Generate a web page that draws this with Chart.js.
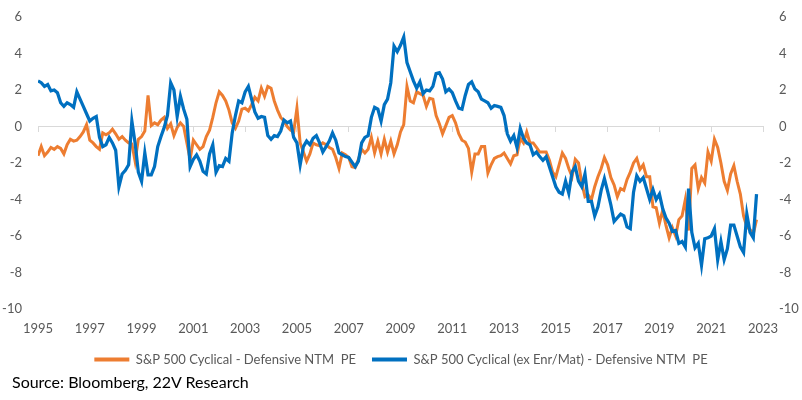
<!DOCTYPE html>
<html>
<head>
<meta charset="utf-8">
<title>S&amp;P 500 Cyclical - Defensive NTM PE</title>
<script src="https://cdn.jsdelivr.net/npm/chart.js@4.4.1/dist/chart.umd.min.js"></script>
<style>
  html, body { margin: 0; padding: 0; background: #fff; }
  #wrap { position: relative; width: 802px; height: 400px; }
  #source {
    position: absolute; left: 12px; top: 372px;
    font-family: Lato, 'Open Sans', sans-serif; font-size: 16px; line-height: 20px;
    color: #000;
  }
</style>
</head>
<body>
<div id="wrap">
  <canvas id="peChart"></canvas>
  <div id="source"></div>
</div>
<script>
// values, one point every 1.5 months starting Jan 1995
var orangeLabel = 'S&P 500 Cyclical - Defensive NTM  PE';
var blueLabel = 'S&P 500 Cyclical (ex Enr/Mat) - Defensive NTM  PE';
var sourceText = 'Source: Bloomberg, 22V Research';

var orangeValues = [
    -1.6, -1.1, -1.6, -1.4, -1.15, -1.25, -1.1, -1.2, -1.5, -1.0,
    -0.7, -0.8, -0.75, -0.55, -0.3, 0.1, -0.75, -0.9, -1.1, -1.25,
    -0.35, -0.45, -0.35, -0.15, -0.4, -0.7, -0.55, -0.75, -0.9, -0.95,
    -1.9, -0.7, -0.55, -0.25, 1.7, 0.05, 0.2, 0.1, 0.35, 0.5,
    -0.1, 0.15, -0.5, -0.05, 0.2, 0.0, -0.9, -1.8, -0.75, -1.0,
    -1.25, -1.1, -0.55, -0.2, 0.5, 1.3, 1.9, 1.7, 1.4, 0.9,
    0.2, -0.1, 0.3, 0.95, 1.0, 0.85, 1.2, 1.6, 1.4, 2.1,
    1.65, 2.2, 2.1, 1.4, 0.9, 0.5, 0.3, 0.0, -0.2, -0.3,
    1.0, -0.9, -1.4, -1.9, -1.5, -0.9, -1.0, -1.05, -0.9, -1.0,
    -1.15, -1.25, -1.7, -2.3, -1.45, -1.55, -1.7, -2.2, -2.25, -1.8,
    -1.25, -1.45, -1.25, -0.6, -1.45, -0.8, -1.5, -0.7, -1.4, -0.8,
    -1.5, -1.0, -0.3, 0.1, 2.2, 1.4, 1.3, 1.9, 1.8, 1.7,
    1.1, 1.55, 1.5, 0.6, 0.15, -0.4, 0.05, 0.5, 0.6, 0.2,
    -0.4, -0.75, -0.85, -1.2, -2.5, -1.5, -1.5, -1.1, -1.1, -2.55,
    -2.1, -1.75, -1.65, -1.6, -1.45, -1.75, -2.05, -1.6, -1.55, -0.65,
    -0.9, -0.3, -0.9, -0.9, -1.15, -1.4, -1.4, -1.4, -1.85, -2.5,
    -2.75, -2.1, -1.45, -1.75, -2.3, -2.75, -1.8, -2.0, -3.1, -3.85,
    -3.75, -4.0, -3.3, -2.75, -2.3, -1.7, -2.1, -2.8, -3.2, -3.85,
    -3.4, -3.5, -2.9, -2.5, -2.0, -1.75, -2.35, -2.1, -2.75, -2.75,
    -4.4, -4.45, -5.3, -4.6, -5.4, -6.1, -5.55, -6.0, -5.1, -4.9,
    -4.0, -5.7, -2.3, -2.1, -3.4, -2.8, -3.1, -1.4, -1.9, -0.7,
    -1.15, -2.0, -3.0, -3.5, -2.6, -2.15, -3.0, -3.7, -4.9, -5.5,
    -5.65, -5.9, -5.1
];

var blueValues = [
    2.5, 2.4, 2.2, 2.3, 1.95, 2.0, 1.85, 1.3, 1.1, 1.3,
    1.2, 1.05, 1.9, 1.5, 1.1, 0.7, 0.3, 0.45, 0.55, -0.6,
    -1.1, -1.0, -0.6, -0.9, -1.3, -3.3, -2.6, -2.4, -2.1, 0.3,
    -0.9, -2.5, -3.0, -1.45, -2.65, -2.65, -2.2, -1.1, -0.55, -0.05,
    0.6, 2.4, 2.0, 0.55, 1.65, 0.95, 0.4, -2.2, -1.8, -1.55,
    -1.9, -2.45, -2.6, -1.5, -1.0, -2.5, -2.15, -2.2, -1.75, -1.9,
    -0.35, 0.6, 1.4, 1.3, 1.9, 2.2, 1.5, 0.8, 0.45, 0.55,
    0.5, -0.5, -0.7, -0.5, -0.55, -0.25, 0.35, 0.2, 0.3, -0.6,
    -0.9, -2.1, -1.1, -0.8, -1.0, -0.65, -0.5, -0.9, -1.4, -1.1,
    -0.8, -0.35, -0.75, -1.45, -1.55, -1.65, -1.7, -1.95, -2.2, -1.9,
    -0.9, -0.6, -0.5, 0.5, 1.05, 0.95, 0.3, 1.2, 1.5, 2.4,
    4.4, 4.1, 4.45, 4.9, 3.5, 3.0, 2.5, 2.1, 2.45, 1.8,
    2.0, 1.95, 2.2, 2.9, 2.95, 2.6, 1.9, 2.05, 1.85, 1.4,
    1.0, 0.95, 1.7, 2.3, 2.45, 2.05, 1.9, 1.5, 1.4, 1.3,
    1.0, 1.15, 1.1, 1.05, 0.6, -0.4, -0.8, -0.5, -1.15, -0.1,
    -0.65, -0.9, -1.0, -1.55, -1.4, -1.65, -1.85, -1.65, -2.2, -2.75,
    -3.3, -3.6, -3.7, -3.0, -3.65, -2.5, -2.2, -3.0, -3.3, -2.6,
    -4.1, -4.1, -4.9, -4.4, -3.5, -2.85, -3.55, -4.3, -5.2, -5.0,
    -4.8, -4.9, -5.5, -5.6, -3.6, -2.7, -3.0, -2.8, -3.4, -4.0,
    -3.45, -4.0, -3.7, -4.5, -5.0, -5.3, -5.75, -5.7, -6.4, -6.3,
    -6.6, -3.4, -5.8, -6.65, -6.4, -7.6, -6.15, -6.1, -6.0, -5.6,
    -7.3, -6.3, -7.3, -6.7, -5.4, -5.4, -6.0, -6.6, -6.9, -4.8,
    -5.8, -6.1, -3.7
];

// x positions as decimal years (1.5 month steps)
var dates = orangeValues.map(function(v, i) { return 1995 + i / 8; });

var yearMin = 1995, yearMax = 2023, yearStep = 2;
var valueMin = -10, valueMax = 6, valueStep = 2;

var fontFamily = "Lato, 'Open Sans', sans-serif";
var gray = '#595959';

document.getElementById('source').textContent = sourceText;

function toPoints(values) {
    return values.map(function(v, i) { return { x: dates[i], y: v }; });
}

// y axes: hidden tick marks + small padding keep the top of the plot at 17px
function valueAxis(side, width) {
    return {
        min: valueMin,
        max: valueMax,
        position: side,
        grid: { display: false, drawTicks: true, tickLength: 7 },
        border: { display: false },
        ticks: {
            stepSize: valueStep,
            padding: 9,
            color: gray,
            font: { family: fontFamily, size: 13 }
        },
        afterFit: function(scale) { scale.width = width; }
    };
}

var ctx = document.getElementById('peChart').getContext('2d');
var peChart = new Chart(ctx, {
    type: 'line',
    data: {
        datasets: [
            {
                label: orangeLabel,
                data: toPoints(orangeValues),
                borderColor: '#ED7D31',
                backgroundColor: '#ED7D31',
                borderWidth: 3,
                pointRadius: 0,
                tension: 0,
                order: 1
            },
            {
                label: blueLabel,
                data: toPoints(blueValues),
                borderColor: '#0070C0',
                backgroundColor: '#0070C0',
                borderWidth: 3.25,
                pointRadius: 0,
                tension: 0,
                order: 0 // blue on top
            }
        ]
    },
    options: {
        responsive: true,
        maintainAspectRatio: false,
        animation: false,
        layout: {
            padding: { left: 0, right: 0, top: 17, bottom: 24 }
        },
        scales: {
            x: {
                type: 'linear',
                min: yearMin,
                max: yearMax,
                grid: { display: false, drawTicks: false },
                border: { display: false },
                ticks: {
                    stepSize: yearStep,
                    padding: 12,
                    color: gray,
                    font: { family: fontFamily, size: 13 },
                    callback: function(value) { return String(value); }
                },
                afterFit: function(scale) { scale.height = 28; }
            },
            // zero line with small tick marks
            x0: {
                type: 'linear',
                position: { y: 0 },
                min: yearMin,
                max: yearMax,
                ticks: { display: false, stepSize: yearStep },
                grid: {
                    drawOnChartArea: false,
                    drawTicks: true,
                    tickLength: 5,
                    color: '#d9d9d9'
                },
                border: { display: true, color: '#d9d9d9', width: 1 }
            },
            y: valueAxis('left', 38),
            y2: valueAxis('right', 39)
        },
        plugins: {
            tooltip: { enabled: false },
            legend: {
                position: 'bottom',
                labels: {
                    boxWidth: 35,
                    boxHeight: 4,
                    padding: 16,
                    color: gray,
                    font: { family: fontFamily, size: 13 },
                    sort: function(a, b) { return a.datasetIndex - b.datasetIndex; },
                    generateLabels: function(chart) {
                        var items = Chart.defaults.plugins.legend.labels.generateLabels(chart);
                        items.forEach(function(item) { item.lineWidth = 0; });
                        return items;
                    }
                }
            }
        }
    }
});
</script>
</body>
</html>
